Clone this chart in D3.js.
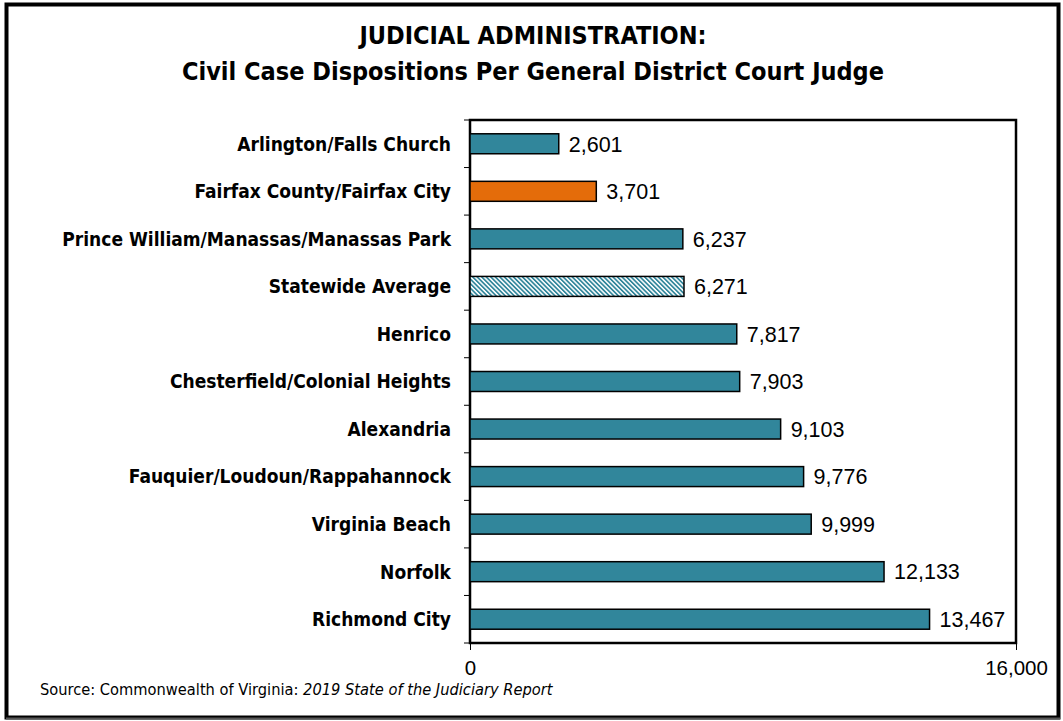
<!DOCTYPE html>
<html><head><meta charset="utf-8">
<script src="https://cdn.jsdelivr.net/npm/d3@7"></script>
<style>body{margin:0;background:#fff}svg{display:block}</style>
</head><body>
<script>
const categories = ["Arlington/Falls Church","Fairfax County/Fairfax City","Prince William/Manassas/Manassas Park","Statewide Average","Henrico","Chesterfield/Colonial Heights","Alexandria","Fauquier/Loudoun/Rappahannock","Virginia Beach","Norfolk","Richmond City"];
const values = [2601,3701,6237,6271,7817,7903,9103,9776,9999,12133,13467];
const kinds = ["normal","highlight","normal","average","normal","normal","normal","normal","normal","normal","normal"];
const tickValues = [0,16000];
const titleLines = ["JUDICIAL ADMINISTRATION:","Civil Case Dispositions Per General District Court Judge"];

const W=1063,H=721;
const svg=d3.select("body").append("svg").attr("width",W).attr("height",H);
const defs=svg.append("defs");
const pat=defs.append("pattern").attr("id","hatch").attr("patternUnits","userSpaceOnUse").attr("width",3.2).attr("height",3.2).attr("patternTransform","rotate(-45)");
pat.append("rect").attr("width",3.2).attr("height",3.2).attr("fill","#fff");
pat.append("rect").attr("width",1.7).attr("height",3.2).attr("fill","#31869B");

// outer frame
svg.append("rect").attr("x",6.5).attr("y",4.5).attr("width",1052).attr("height",713).attr("fill","none").attr("stroke","#000").attr("stroke-width",4);
svg.append("line").attr("x1",6).attr("x2",1060).attr("y1",718.5).attr("y2",718.5).attr("stroke","#555").attr("stroke-width",2);

const cond="'DejaVu Sans Condensed',sans-serif";
const sans="'Liberation Sans',Arial,sans-serif";
svg.selectAll("text.title").data(titleLines).join("text").attr("class","title")
 .attr("x",533).attr("y",(d,i)=>44+i*36).attr("text-anchor","middle")
 .attr("font-family",cond).attr("font-weight","bold").attr("font-size",25).attr("fill","#000").text(d=>d);

const m={l:470,r:1016,t:120,b:643};
const x=d3.scaleLinear().domain([0,16000]).range([m.l,m.r]);
const y=d3.scaleBand().domain(categories).range([m.t,m.b]).paddingInner(0.58).paddingOuter(0.29);

// plot frame
svg.append("rect").attr("x",m.l).attr("y",m.t).attr("width",m.r-m.l).attr("height",m.b-m.t).attr("fill","none").attr("stroke","#000").attr("stroke-width",2.5);

// y ticks between categories
const step=(m.b-m.t)/categories.length;
svg.selectAll("line.yt").data(d3.range(categories.length+1)).join("line")
 .attr("x1",m.l-6).attr("x2",m.l).attr("y1",i=>m.t+i*step).attr("y2",i=>m.t+i*step).attr("stroke","#000").attr("stroke-width",1);

svg.selectAll("rect.bar").data(values).join("rect").attr("class","bar")
 .attr("x",x(0)).attr("y",(d,i)=>y(categories[i])).attr("width",d=>x(d)-x(0)).attr("height",y.bandwidth())
 .attr("fill",(d,i)=>kinds[i]==="highlight"?"#E46C0A":kinds[i]==="average"?"url(#hatch)":"#31869B")
 .attr("stroke","#000").attr("stroke-width",1.5);

svg.selectAll("text.val").data(values).join("text").attr("class","val")
 .attr("x",d=>x(d)+10).attr("y",(d,i)=>y(categories[i])+y.bandwidth()/2).attr("dy","0.36em")
 .attr("font-family",sans).attr("font-size",21.5).attr("fill","#000")
 .text(d=>d3.format(",")(d));

svg.selectAll("text.cat").data(categories).join("text").attr("class","cat")
 .attr("x",451).attr("y",d=>y(d)+y.bandwidth()/2).attr("dy","0.36em").attr("text-anchor","end")
 .attr("font-family",cond).attr("font-weight","bold").attr("font-size",19).attr("fill","#000").text(d=>d);

// x axis
const xa=svg.append("g").attr("transform",`translate(0,${m.b})`).call(d3.axisBottom(x).tickValues(tickValues).tickFormat(d3.format(",")).tickSize(7).tickSizeOuter(0));
xa.select(".domain").remove();
xa.selectAll("line").attr("stroke","#000");
xa.selectAll("text").attr("font-family",sans).attr("font-size",20.5).attr("fill","#000").attr("dy","1.05em");

svg.append("text").attr("x",40).attr("y",695).attr("font-family",cond).attr("font-size",16.3).attr("fill","#000")
 .html("Source: Commonwealth of Virginia: <tspan font-style='italic'>2019 State of the Judiciary Report</tspan>");
</script>
</body></html>
